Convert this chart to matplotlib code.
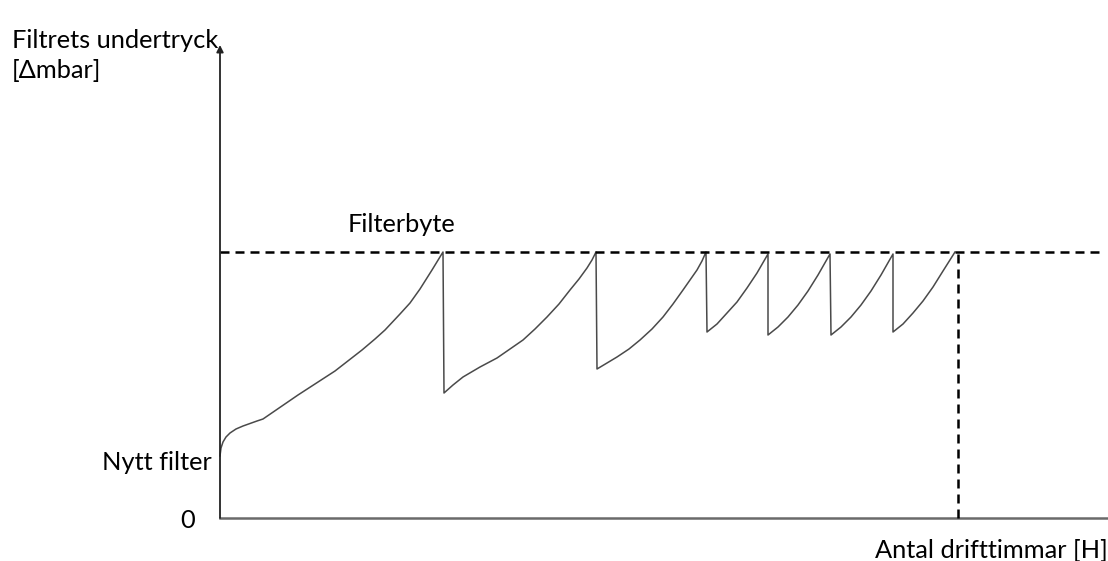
import matplotlib
matplotlib.use("Agg")
import matplotlib.pyplot as plt

# Filter pressure drop over running hours (arbitrary units)
# each segment: filter loading up until it hits the change limit
seg_x = [
    [0, 1, 3, 6, 10, 16, 23, 30, 37, 43, 78, 115, 142, 155, 165, 180, 190,
     200, 212, 223],
    [224, 233, 243, 260, 277, 290, 303, 315, 327, 339, 350, 359, 367, 372, 376],
    [377, 387, 397, 409, 420, 432, 443, 453, 463, 470, 477, 482, 486],
    [487, 497, 507, 517, 527, 537, 548],
    [548, 558, 568, 578, 588, 598, 610],
    [611, 621, 631, 641, 651, 661, 673],
    [673, 683, 693, 703, 713, 723, 735],
]
seg_y = [
    [62, 70, 76, 81, 85, 89, 92, 94.5, 97, 99, 123, 147, 168, 179, 188, 204,
     215, 229, 248, 266],
    [125, 133, 141, 151, 160, 169, 178, 189, 201, 214, 228, 239, 250, 258, 266],
    [149, 155, 161, 169, 178, 189, 201, 214, 228, 238, 248, 257, 266],
    [186, 194, 205, 216, 230, 245, 264],
    [183, 191, 201, 213, 227, 243, 264],
    [183, 191, 201, 213, 227, 243, 264],
    [186, 194, 205, 217, 231, 247, 266],
]
limit = 266        # filterbyte level
end_hours = 738    # last filter change
x_max = 888
y_max = 473

plt.rcParams['font.family'] = ['Lato', 'DejaVu Sans']

fig = plt.figure(figsize=(11.08, 5.61), dpi=100)
ax = fig.add_axes([220/1108, 43/561, 888/1108, 473/561])
ax.set_xlim(0, x_max)
ax.set_ylim(0, y_max)
ax.axis("off")

# curve, with vertical drops at each filter change
xs, ys = [], []
for sx, sy in zip(seg_x, seg_y):
    xs += sx
    ys += sy
ax.plot(xs, ys, color="#4a4a4a", lw=1.1, clip_on=False)

# axes
ax.plot([0, x_max], [0, 0], color="#6a6a6a", lw=1.8, clip_on=False)
ax.annotate("", xy=(0, y_max), xytext=(0, 0),
            arrowprops=dict(arrowstyle="-|>", color="#222222", lw=1.3,
                            mutation_scale=10, shrinkA=0, shrinkB=0),
            annotation_clip=False)

# limit lines
dash = (0, (3.6, 2.4))
ax.plot([0, 880], [limit, limit], color="black", lw=1.8, ls=dash,
        clip_on=False)
ax.plot([end_hours, end_hours], [0, limit], color="black", lw=1.8,
        ls=dash, clip_on=False)

fs = 18.3
ax.text(-208, 478, "Filtrets undertryck", fontsize=fs, ha="left", va="center",
        clip_on=False)
ax.text(-208, 448, "[\u0394mbar]", fontsize=fs, ha="left", va="center",
        clip_on=False)
ax.text(128, 293, "Filterbyte", fontsize=fs, ha="left", va="center")
ax.text(-8, 56, "Nytt filter", fontsize=fs, ha="right", va="center",
        clip_on=False)
ax.text(-32, -2, "0", fontsize=fs, ha="center", va="center", clip_on=False)
ax.text(888, -33, "Antal drifttimmar [H]", fontsize=fs, ha="right",
        va="center", clip_on=False)

fig.savefig("out.png", dpi=100)
